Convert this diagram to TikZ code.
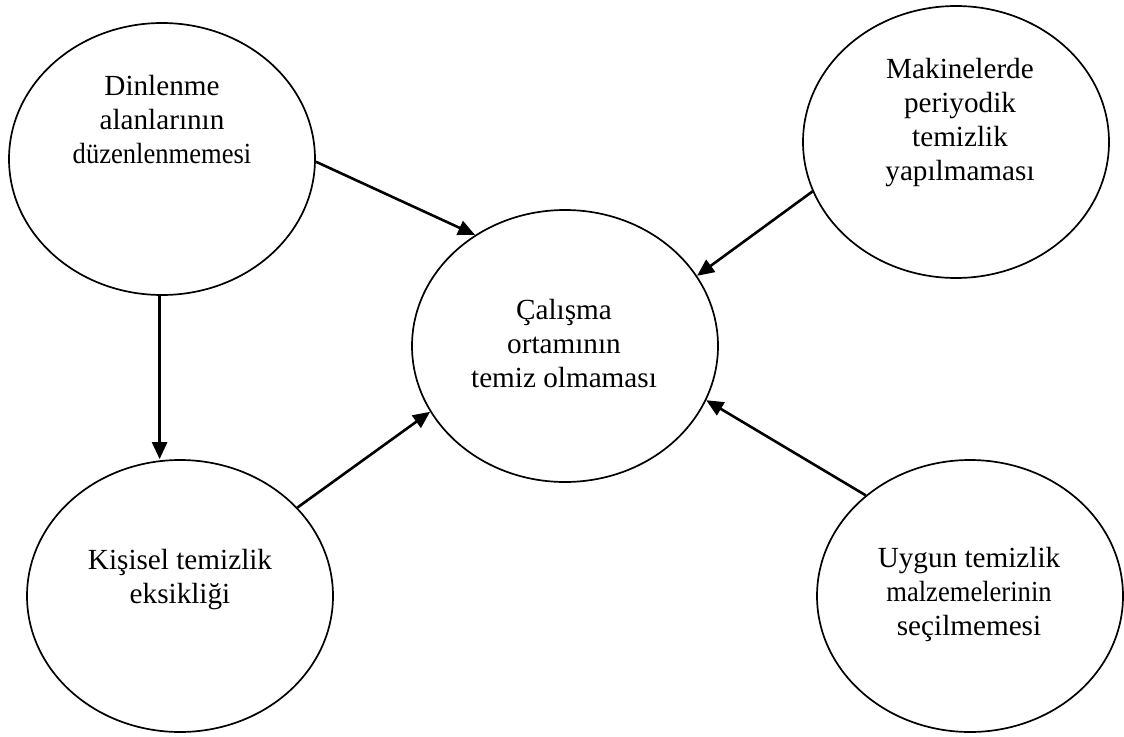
\documentclass[tikz,border=0pt]{standalone}
\usepackage{fontspec}
\usepackage{graphicx}
\setmainfont{Liberation Serif}
\usetikzlibrary{arrows.meta,shapes.geometric}
% a line set slightly narrower, as the long words are
\newcommand{\narrow}[1]{\scalebox{0.91}[1]{#1}}
\begin{document}
\begin{tikzpicture}[x=1pt,y=-1pt,
  bubble/.style={draw, line width=1.7pt, ellipse, minimum width=306pt, minimum height=272pt, inner sep=0pt},
  caption/.style={align=center, anchor=base, font=\fontsize{29.2}{34}\selectfont, inner sep=0pt},
  link/.style={line width=2.6pt, -{Triangle[length=17pt,width=15pt]}}]
\useasboundingbox (0,0) rectangle (1124,736);

% outline shapes
\node[bubble] (dinlenme) at (162,159) {};
\node[bubble] (makine)   at (956,142) {};
\node[bubble] (ortam)    at (565,346) {};
\node[bubble] (kisisel)  at (180,596) {};
\node[bubble] (uygun)    at (970,596) {};

% texts, placed by the baseline of their last line
\node[caption] (tdinlenme) at (162,163) {Dinlenme\\alanlarının\\\narrow{düzenlenmemesi}};
\node[caption] (tmakine)   at (960,180) {Makinelerde\\periyodik\\temizlik\\yapılmaması};
\node[caption] (tortam)    at (564,387) {Çalışma\\ortamının\\temiz olmaması};
\node[caption] (tkisisel)  at (180,603) {Kişisel temizlik\\eksikliği};
\node[caption] (tuygun)    at (969,635) {Uygun temizlik\\\narrow{malzemelerinin}\\seçilmemesi};

% causal links
\draw[link] (dinlenme.-1.5) -- (ortam.129.5);
\draw[link] (makine.199.6)  -- (ortam.28.2);
\draw[link] (dinlenme.-91.3) -- (dinlenme.-91.3 |- kisisel.north);
\draw[link] (kisisel.37.3)  -- (ortam.206);
\draw[link] (uygun.136.9)   -- (ortam.-21.4);
\end{tikzpicture}
\end{document}
